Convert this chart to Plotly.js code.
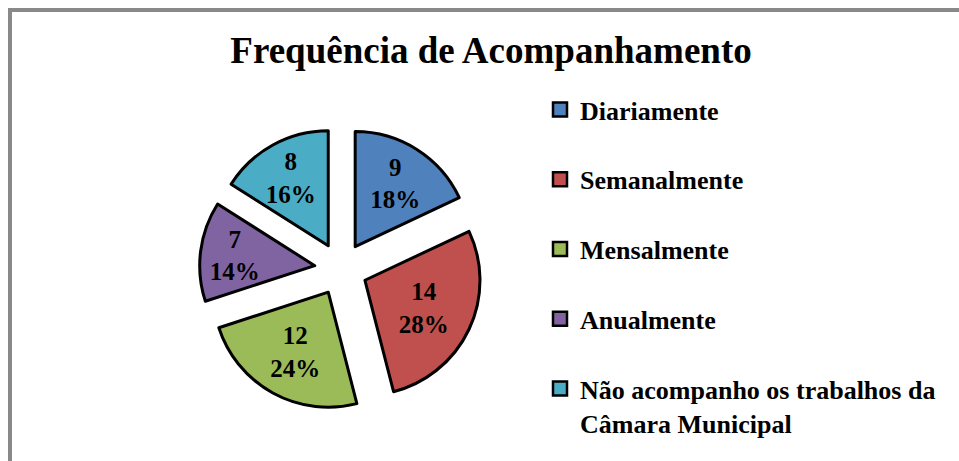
<!DOCTYPE html>
<html>
<head>
<meta charset="utf-8">
<script src="https://cdn.plot.ly/plotly-3.0.1.min.js"></script>
<style>html,body{margin:0;padding:0;background:#fff;}#chart{width:959px;height:461px;}</style>
</head>
<body>
<div id="chart"></div>
<script>
const categories = ["Diariamente", "Semanalmente", "Mensalmente", "Anualmente", "Não acompanho os trabalhos da<br>Câmara Municipal"];
const values = [9, 14, 12, 7, 8];
const colors = ["#4F81BD", "#C0504D", "#9BBB59", "#8064A2", "#4BACC6"];
const chartTitle = "Frequência de Acompanhamento";

const serif = "Liberation Serif";

const pie = {
  type: "pie",
  labels: categories,
  values: values,
  sort: false,
  direction: "clockwise",
  rotation: 0,
  pull: values.map(() => 0.23),
  marker: { colors: colors, line: { color: "#000", width: 3 } },
  texttemplate: "%{value}<br>%{percent:.0%}",
  textposition: "inside",
  insidetextorientation: "horizontal",
  textfont: { family: serif, size: 25, weight: "bold", color: "#000" },
  showlegend: false,
  hoverinfo: "label+value+percent",
  domain: { x: [199.5 / 959, 482.5 / 959], y: [50.5 / 461, 333.5 / 461] }
};

const legendTraces = categories.map((c, i) => ({
  type: "scatter",
  mode: "markers",
  x: [null], y: [null],
  name: c,
  legendgroup: "g" + i,
  marker: { symbol: "square", size: 14, color: colors[i], line: { color: "#000", width: 2.5 } },
  showlegend: true,
  hoverinfo: "skip"
}));

const layout = {
  width: 959, height: 461,
  margin: { l: 0, r: 0, t: 0, b: 0 },
  paper_bgcolor: "#fff", plot_bgcolor: "rgba(0,0,0,0)",
  uniformtext: { minsize: 25, mode: "show" },
  title: {
    text: chartTitle,
    font: { family: serif, size: 37, weight: "bold", color: "#000" },
    x: 491 / 959, xanchor: "center", xref: "paper",
    y: 1 - 50 / 461, yanchor: "middle", yref: "container"
  },
  xaxis: { visible: false, domain: [0.99, 1] },
  yaxis: { visible: false, domain: [0.99, 1] },
  showlegend: true,
  legend: {
    x: 540 / 959, xanchor: "left",
    y: 1 - 86 / 461, yanchor: "top",
    font: { family: serif, size: 26, weight: "bold", color: "#000" },
    tracegroupgap: 33,
    valign: "top",
    bgcolor: "rgba(0,0,0,0)",
    itemclick: false, itemdoubleclick: false
  },
  shapes: [{
    type: "rect", xref: "paper", yref: "paper",
    x0: 10 / 959, x1: 1.05, y0: -0.05, y1: 1 - 10 / 461,
    line: { color: "#898989", width: 4 }, fillcolor: "rgba(0,0,0,0)"
  }]
};

Plotly.newPlot("chart", [pie].concat(legendTraces), layout, { displayModeBar: false, staticPlot: true });
</script>
</body>
</html>
